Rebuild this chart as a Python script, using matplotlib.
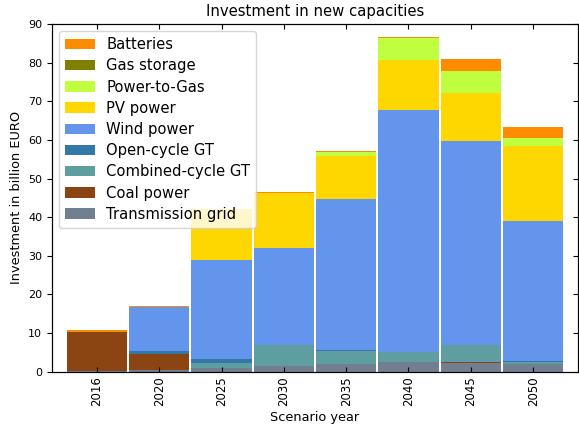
import matplotlib
matplotlib.use("Agg")
import matplotlib.pyplot as plt
import numpy as np

years = ["2016", "2020", "2025", "2030", "2035", "2040", "2045", "2050"]

# Investment per technology in billion EURO (stacked bottom to top)
transmission_grid = [0.1, 0.4, 0.9, 1.5, 2.0, 2.6, 2.3, 2.0]
coal_power = [10.2, 4.3, 0.0, 0.0, 0.0, 0.0, 0.2, 0.0]
combined_cycle_gt = [0.0, 0.0, 1.3, 5.4, 3.4, 2.5, 4.4, 0.5]
open_cycle_gt = [0.0, 0.6, 1.1, 0.0, 0.2, 0.0, 0.0, 0.3]
wind_power = [0.0, 11.5, 25.6, 25.1, 39.1, 62.6, 52.8, 36.2]
pv_power = [0.0, 0.0, 13.1, 14.2, 11.2, 13.0, 12.4, 19.4]
power_to_gas = [0.0, 0.0, 0.0, 0.0, 1.0, 5.8, 5.7, 2.1]
gas_storage = [0.0, -0.3, -0.3, -0.3, -0.3, -0.3, -0.3, -0.3]
batteries = [0.5, 0.3, 0.2, 0.2, 0.2, 0.2, 3.1, 2.8]

series = [
    ("Transmission grid", transmission_grid, "#708090"),
    ("Coal power", coal_power, "#8B4513"),
    ("Combined-cycle GT", combined_cycle_gt, "#5F9EA0"),
    ("Open-cycle GT", open_cycle_gt, "#3379A5"),
    ("Wind power", wind_power, "#6495ED"),
    ("PV power", pv_power, "#FFD700"),
    ("Power-to-Gas", power_to_gas, "#BFFF40"),
    ("Gas storage", gas_storage, "#808000"),
    ("Batteries", batteries, "#FF8C00"),
]

fig = plt.figure(figsize=(5.79, 4.25), dpi=100)
ax = fig.add_axes([52 / 579, 1 - 371.7 / 425, 526 / 579, 347.7 / 425])

x = np.arange(len(years))
pos_base = np.zeros(len(years))
neg_base = np.zeros(len(years))
handles = []
for name, vals, color in series:
    v = np.asarray(vals, dtype=float)
    base = np.where(v >= 0, pos_base, neg_base)
    h = ax.bar(x, v, width=0.965, bottom=base, color=color, label=name,
               linewidth=0)
    handles.append(h)
    pos_base = pos_base + np.where(v >= 0, v, 0)
    neg_base = neg_base + np.where(v < 0, v, 0)

ax.set_xlim(-0.72, len(years) - 1 + 0.72)
ax.set_ylim(0, 90)
ax.set_yticks(np.arange(0, 91, 10))
ax.set_xticks(x)
ax.set_xticklabels(years, rotation=90)
ax.tick_params(axis="y", labelsize=8)
ax.tick_params(axis="x", labelsize=8.5, direction="in", top=True)

ax_r = ax.twinx()
ax_r.set_ylim(0, 90)
ax_r.set_yticks(np.arange(0, 91, 10))
ax_r.tick_params(axis="y", direction="in", labelright=False)

ax.set_title("Investment in new capacities", fontsize=10.7)
ax.set_xlabel("Scenario year", fontsize=9.3, labelpad=3)
ax.set_ylabel("Investment in billion EURO", fontsize=9.3)

ax.legend(handles[::-1], [s[0] for s in series][::-1], loc="upper left",
          fontsize=10.6, labelspacing=0.42)

fig.savefig("out.png", dpi=100)
